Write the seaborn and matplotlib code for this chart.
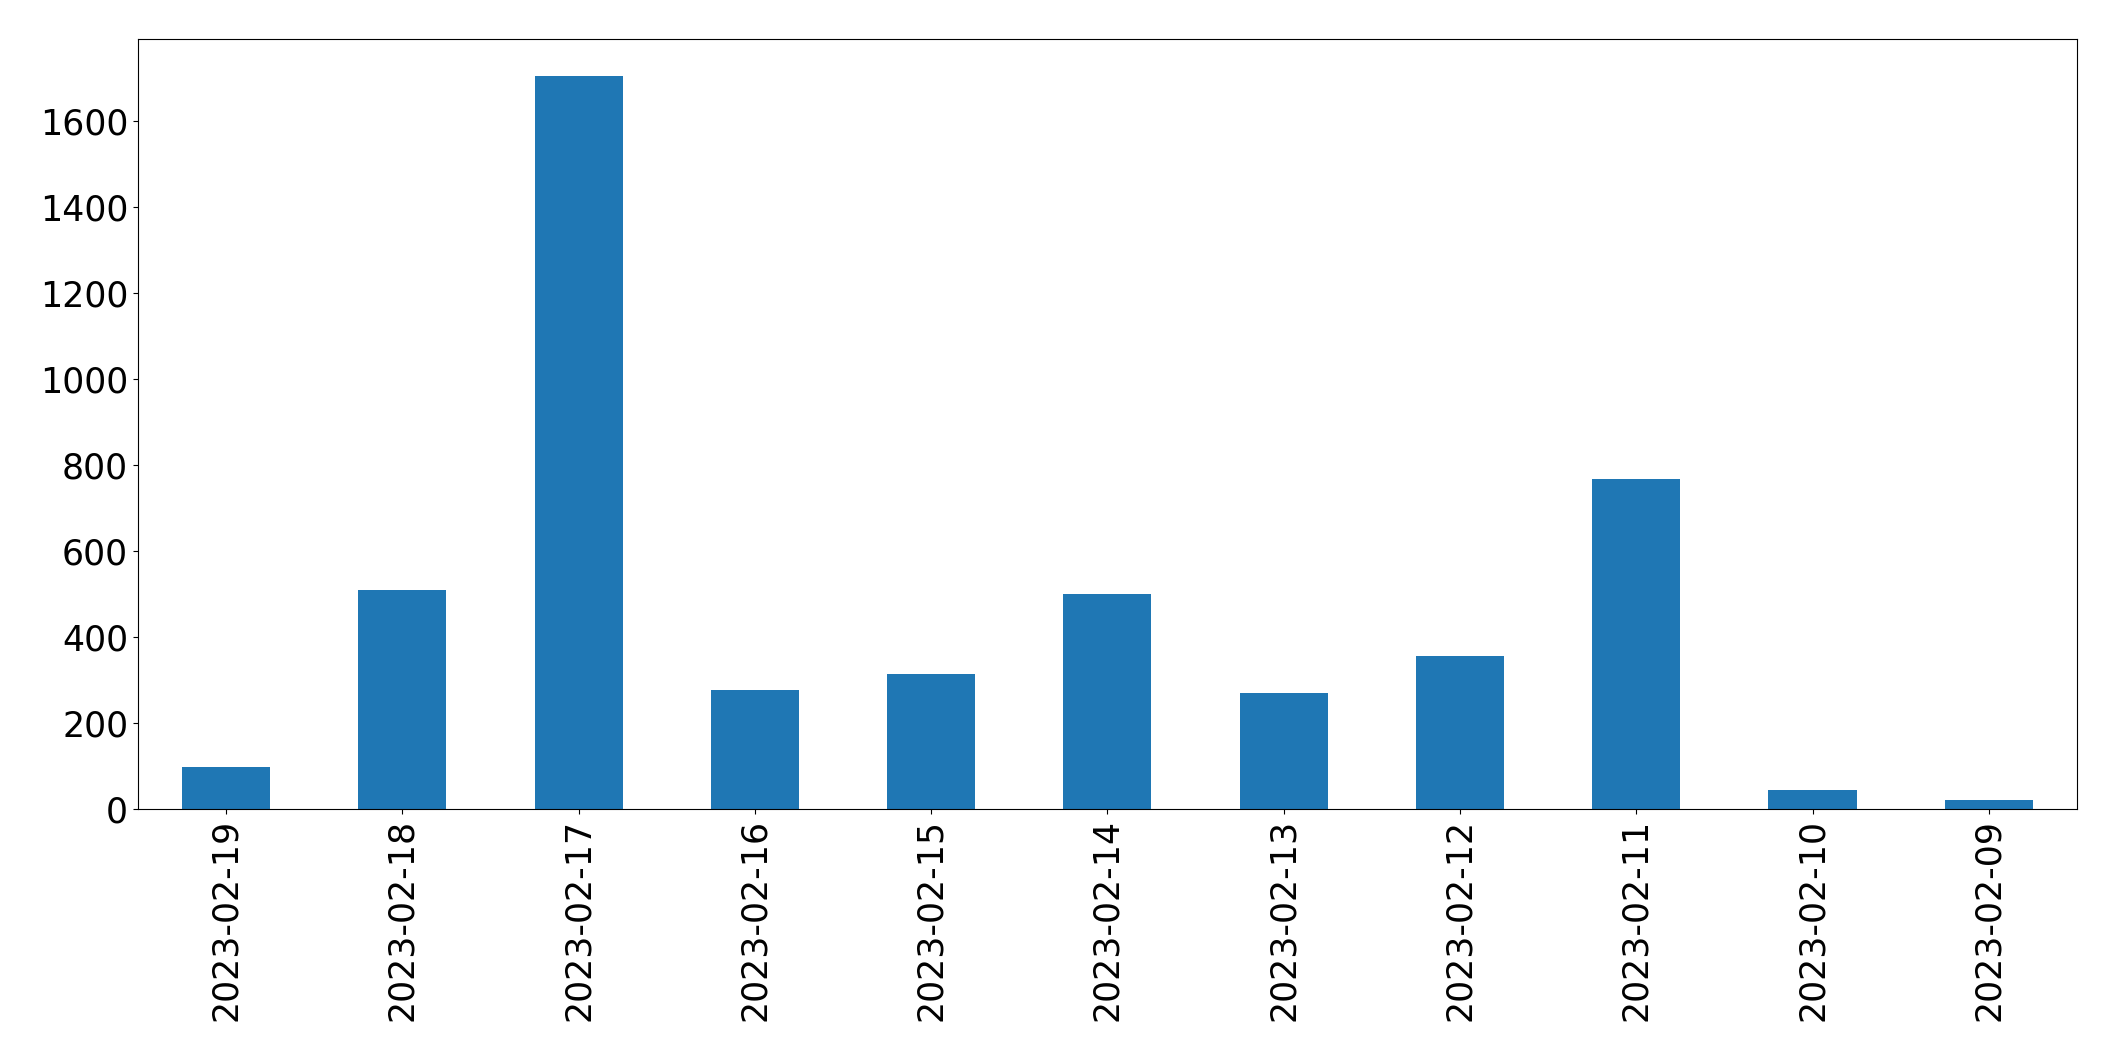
import pandas as pd
import seaborn as sns
from matplotlib import pyplot as plt

dates = ["2023-02-19", "2023-02-18", "2023-02-17", "2023-02-16", "2023-02-15", "2023-02-14",
         "2023-02-13", "2023-02-12", "2023-02-11", "2023-02-10", "2023-02-09"]
counts = [97, 509, 1706, 276, 314, 501, 270, 356, 768, 44, 21]

df = pd.DataFrame({"date": dates, "count": counts})

with plt.style.context('default'):
    fig, ax = plt.subplots(figsize=(21.15, 10.61), dpi=100)
    sns.barplot(data=df, x="date", y="count", ax=ax, color="#1f77b4", saturation=1, width=0.5)

    ax.set_xlabel("")
    ax.set_ylabel("")
    ax.set_xlim(-0.5, len(dates) - 0.5)
    ax.tick_params(axis='both', labelsize=25)
    ax.tick_params(axis='x', labelrotation=90)

    fig.subplots_adjust(left=0.0652, right=0.982, top=0.9632, bottom=0.2375)
    fig.savefig("out.png", facecolor='white')
    plt.close(fig)
